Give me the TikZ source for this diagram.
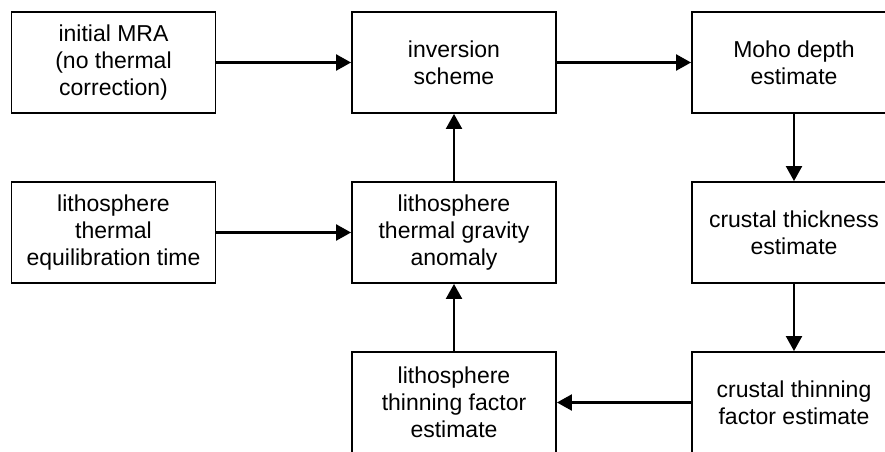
\documentclass[tikz,border=0pt]{standalone}
\usepackage{fontspec}
\setmainfont{Liberation Sans}
\usetikzlibrary{arrows.meta}
\begin{document}
\begin{tikzpicture}[x=1pt,y=-1pt,
  box/.style={draw=black,line width=1.9pt,minimum width=204pt,minimum height=101pt,
    inner sep=0pt,align=center,font=\fontsize{23}{27}\selectfont},
  conn/.style={line width=2.3pt,-{Triangle[length=15pt,width=16pt]}}]
\useasboundingbox (0,0) rectangle (885,451);
\clip (0,0) rectangle (885,451);
\fill[white] (0,0) rectangle (885,451);
\node[box] (mra) at (113.5,62.5) {initial MRA\\(no thermal\\correction)};
\node[box] (inv) at (454,62.5) {inversion\\scheme};
\node[box] (moho) at (794,62.5) {Moho depth\\estimate};
\node[box] (eq) at (113.5,232.5) {lithosphere\\thermal\\equilibration time};
\node[box] (grav) at (454,232.5) {lithosphere\\thermal gravity\\anomaly};
\node[box] (thick) at (794,232.5) {crustal thickness\\estimate};
\node[box] (lthin) at (454,402.5) {lithosphere\\thinning factor\\estimate};
\node[box] (cthin) at (794,402.5) {crustal thinning\\factor estimate};
\draw[conn] (mra) -- (inv);
\draw[conn] (inv) -- (moho);
\draw[conn] (moho) -- (thick);
\draw[conn] (eq) -- (grav);
\draw[conn] (grav) -- (inv);
\draw[conn] (thick) -- (cthin);
\draw[conn] (cthin) -- (lthin);
\draw[conn] (lthin) -- (grav);
\end{tikzpicture}
\end{document}
